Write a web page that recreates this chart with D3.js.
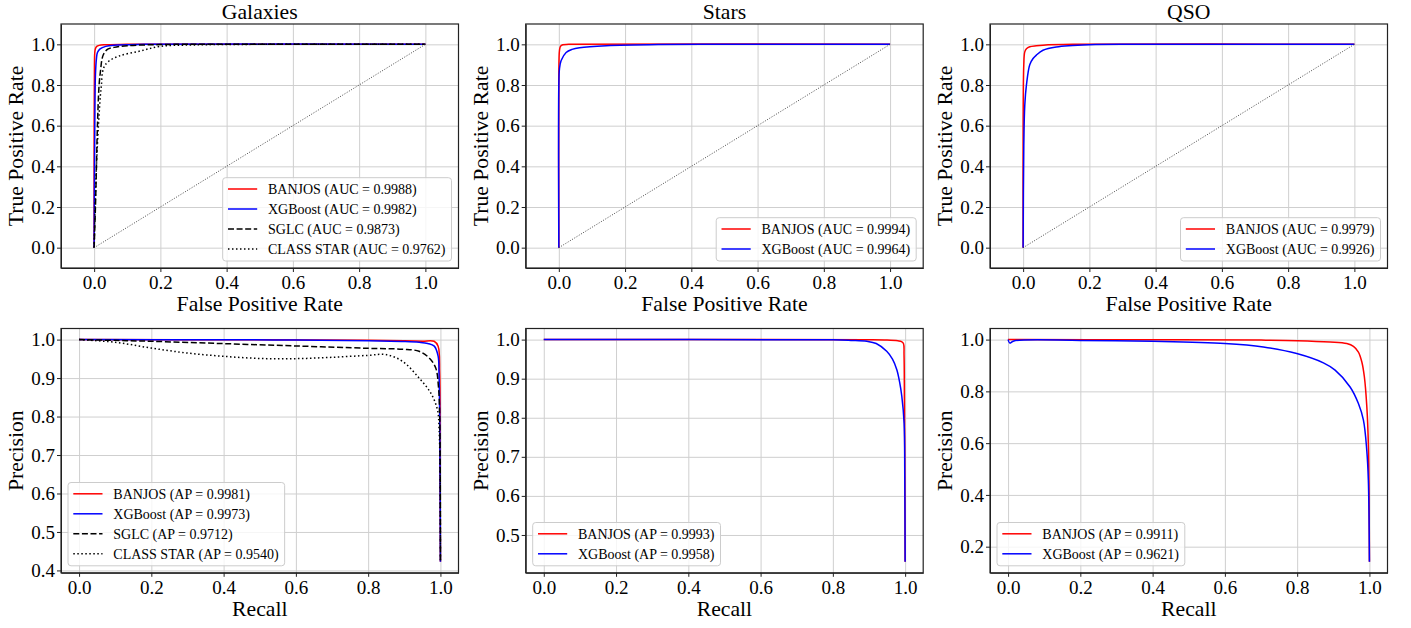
<!DOCTYPE html>
<html>
<head>
<meta charset="utf-8">
<script src="https://cdn.jsdelivr.net/npm/d3@7"></script>
<style>
    body { margin: 0; background: #fff; }
    #chart { width: 1411px; height: 628px; }
    svg, svg text { font-family: "Liberation Serif", "Times New Roman", Times, serif; fill: #000; }
    .axis path { stroke: #222; }
    .axis line { stroke: #222; }
    .axis text { font-size: 19px; }
    .grid line { stroke: #cfcfcf; stroke-width: 1; }
    .grid path { display: none; }
    .axisLabel { font-size: 21.7px; }
    .legend text { font-size: 14px; }
</style>
</head>
<body>
<div id="chart"></div>
<script>
// ---- data ----
const classNames = ["Galaxies", "Stars", "QSO"];
const rocTicks = [0.0, 0.2, 0.4, 0.6, 0.8, 1.0];
const recallTicks = [0.0, 0.2, 0.4, 0.6, 0.8, 1.0];
const precisionTicksGal = [0.4, 0.5, 0.6, 0.7, 0.8, 0.9, 1.0];
const precisionTicksStar = [0.5, 0.6, 0.7, 0.8, 0.9, 1.0];
const precisionTicksQso = [0.2, 0.4, 0.6, 0.8, 1.0];

// ROC curves: [fpr, tpr]
const rocGalBanjos = [[0,0],[0,0.5],[0.001,0.9],[0.002,0.96],[0.004,0.98],[0.008,0.99],[0.015,0.995],[0.03,0.998],[0.1,1],[1,1]];
const rocGalXgb = [[0,0],[0.002,0.6],[0.004,0.85],[0.007,0.93],[0.01,0.96],[0.018,0.978],[0.035,0.99],[0.06,0.996],[0.15,1],[1,1]];
const rocGalSglc = [[0,0],[0.004,0.2],[0.007,0.4],[0.01,0.6],[0.015,0.8],[0.02,0.88],[0.023,0.92],[0.028,0.95],[0.04,0.975],[0.06,0.985],[0.1,0.993],[0.2,0.999],[0.3,1],[1,1]];
const rocGalClassStar = [[0,0],[0.003,0.2],[0.007,0.4],[0.013,0.6],[0.019,0.75],[0.022,0.8],[0.025,0.86],[0.032,0.895],[0.045,0.918],[0.076,0.943],[0.136,0.966],[0.2,0.99],[0.3,0.997],[0.5,1],[1,1]];

const rocStarBanjos = [[0,0],[0,0.85],[0.002,0.97],[0.005,0.99],[0.012,0.998],[0.03,1],[1,1]];
const rocStarXgb = [[0,0],[0,0.8],[0.002,0.88],[0.007,0.92],[0.022,0.96],[0.04,0.975],[0.0625,0.983],[0.143,0.993],[0.3,0.999],[0.5,1],[1,1]];

const rocQsoBanjos = [[0,0],[0,0.6],[0.002,0.9],[0.005,0.963],[0.01,0.978],[0.02,0.988],[0.04,0.993],[0.06,0.996],[0.15,1],[1,1]];
const rocQsoXgb = [[0,0],[0.002,0.5],[0.005,0.7],[0.01,0.8],[0.02,0.9],[0.03,0.93],[0.04,0.947],[0.06,0.971],[0.1,0.987],[0.2,0.998],[0.35,1],[1,1]];

// PR curves: [recall, precision]
const prGalBanjos = [[0,1],[0.5,0.9995],[0.8,0.998],[0.9,0.997],[0.95,0.996],[0.9826,0.9956],[0.9936,0.9826],[0.998,0.914],[0.999,0.7],[1,0.4227]];
const prGalXgb = [[0,1],[0.4,0.9995],[0.6,0.999],[0.8,0.997],[0.9,0.995],[0.941,0.993],[0.965,0.99],[0.983,0.983],[0.9936,0.957],[0.996,0.913],[0.998,0.8],[1,0.4227]];
const prGalSglc = [[0,1],[0.1,0.998],[0.2,0.9956],[0.4,0.9896],[0.6,0.9835],[0.8,0.9774],[0.895,0.975],[0.941,0.9696],[0.969,0.952],[0.987,0.926],[0.9945,0.878],[0.998,0.8],[1,0.4227]];
const prGalClassStar = [[0,1],[0.1,0.993],[0.2,0.978],[0.3,0.965],[0.4,0.9566],[0.5,0.951],[0.6,0.9505],[0.7,0.954],[0.8,0.959],[0.849,0.961],[0.895,0.9435],[0.941,0.9],[0.9733,0.861],[0.9917,0.8177],[0.9963,0.766],[0.999,0.65],[1,0.4227]];

const prStarBanjos = [[0,1],[0.9,0.9998],[0.95,0.999],[0.98,0.997],[0.99,0.995],[0.9954,0.99],[0.997,0.96],[0.998,0.85],[0.999,0.7],[1,0.4316]];
const prStarXgb = [[0,1],[0.8,0.9995],[0.85,0.998],[0.894,0.9957],[0.92,0.99],[0.949,0.97],[0.965,0.95],[0.977,0.923],[0.985,0.89],[0.9908,0.855],[0.9972,0.786],[0.999,0.65],[1,0.4316]];

const prQsoBanjos = [[0,1],[0.4,0.9995],[0.7,0.998],[0.8,0.996],[0.8911,0.9907],[0.9374,0.9846],[0.9557,0.9742],[0.9695,0.952],[0.979,0.9136],[0.986,0.8557],[0.9928,0.74],[0.9972,0.5857],[1,0.142]];
const prQsoXgb = [[0,1],[0.0047,0.987],[0.016,0.995],[0.2,0.997],[0.4,0.9935],[0.6,0.985],[0.7064,0.9715],[0.7988,0.946],[0.8726,0.91],[0.905,0.882],[0.9465,0.817],[0.9695,0.753],[0.9834,0.689],[0.9926,0.573],[0.997,0.457],[1,0.142]];

// legend labels
const rocLabelsGal = ["BANJOS (AUC = 0.9988)", "XGBoost (AUC = 0.9982)", "SGLC (AUC = 0.9873)", "CLASS STAR (AUC = 0.9762)"];
const rocLabelsStar = ["BANJOS (AUC = 0.9994)", "XGBoost (AUC = 0.9964)"];
const rocLabelsQso = ["BANJOS (AUC = 0.9979)", "XGBoost (AUC = 0.9926)"];
const prLabelsGal = ["BANJOS (AP = 0.9981)", "XGBoost (AP = 0.9973)", "SGLC (AP = 0.9712)", "CLASS STAR (AP = 0.9540)"];
const prLabelsStar = ["BANJOS (AP = 0.9993)", "XGBoost (AP = 0.9958)"];
const prLabelsQso = ["BANJOS (AP = 0.9911)", "XGBoost (AP = 0.9621)"];

// ---- styles ----
const styles = [
    {color: "#ff0000", dash: null},
    {color: "#0000ff", dash: null},
    {color: "#000000", dash: "6,2.6"},
    {color: "#000000", dash: "1.5,2.5"}
];

const width = 1411;
const height = 628;

const svg = d3.select("#chart")
    .append("svg")
    .attr("width", width)
    .attr("height", height);

// frame positions of the 6 panels
const colLeft = [61, 525.7, 990];
const panelW = 397.5;
const topRow = {top: 24, bottom: 268};
const botRow = {top: 328.5, bottom: 572.8};

function prDomain(series) {
    // matplotlib-like 5% autoscale margin
    const lo = d3.min(series, function(s) { return d3.min(s, function(d) { return d[1]; }); });
    const hi = d3.max(series, function(s) { return d3.max(s, function(d) { return d[1]; }); });
    const pad = (hi - lo) * 0.05;
    return [lo - pad, hi + pad];
}

function drawPanel(cfg) {
    const left = cfg.left, right = cfg.left + panelW;
    const top = cfg.top, bottom = cfg.bottom;

    const xScale = d3.scaleLinear().domain(cfg.xDomain).range([left, right]);
    const yScale = d3.scaleLinear().domain(cfg.yDomain).range([bottom, top]);

    // grid
    svg.append("g")
        .attr("class", "grid")
        .attr("transform", `translate(0,${bottom})`)
        .call(d3.axisBottom(xScale).tickValues(cfg.xTicks).tickSize(-(bottom - top)).tickFormat(""));
    svg.append("g")
        .attr("class", "grid")
        .attr("transform", `translate(${left},0)`)
        .call(d3.axisLeft(yScale).tickValues(cfg.yTicks).tickSize(-(right - left)).tickFormat(""));

    const line = d3.line()
        .x(function(d) { return xScale(d[0]); })
        .y(function(d) { return yScale(d[1]); })
        .curve(d3.curveCatmullRom.alpha(0.5));

    cfg.series.forEach(function(s, i) {
        svg.append("path")
            .datum(s)
            .attr("d", line)
            .attr("fill", "none")
            .attr("stroke", styles[i].color)
            .attr("stroke-width", 1.5)
            .attr("stroke-dasharray", styles[i].dash);
    });

    // chance diagonal on ROC panels
    if (cfg.diagonal) {
        svg.append("path")
            .datum([[0, 0], [1, 1]])
            .attr("d", d3.line().x(function(d) { return xScale(d[0]); }).y(function(d) { return yScale(d[1]); }))
            .attr("fill", "none")
            .attr("stroke", "#333")
            .attr("stroke-width", 0.9)
            .attr("stroke-dasharray", "1,1.6");
    }

    // axes
    svg.append("g")
        .attr("class", "axis")
        .attr("transform", `translate(0,${bottom})`)
        .call(d3.axisBottom(xScale).tickValues(cfg.xTicks).tickFormat(d3.format(".1f")).tickSize(4).tickPadding(4).tickSizeOuter(0))
        .attr("font-family", null)
        .attr("font-size", null);
    svg.append("g")
        .attr("class", "axis")
        .attr("transform", `translate(${left},0)`)
        .call(d3.axisLeft(yScale).tickValues(cfg.yTicks).tickFormat(d3.format(".1f")).tickSize(4).tickPadding(2).tickSizeOuter(0))
        .attr("font-family", null)
        .attr("font-size", null);

    // frame
    svg.append("rect")
        .attr("x", left)
        .attr("y", top)
        .attr("width", right - left)
        .attr("height", bottom - top)
        .attr("fill", "none")
        .attr("stroke", "#222")
        .attr("stroke-width", 1.2);

    // labels
    svg.append("text")
        .attr("class", "axisLabel")
        .attr("x", (left + right) / 2)
        .attr("y", bottom + 43)
        .attr("text-anchor", "middle")
        .text(cfg.xLabel);
    svg.append("text")
        .attr("class", "axisLabel")
        .attr("transform", `translate(${left - 38},${(top + bottom) / 2}) rotate(-90)`)
        .attr("text-anchor", "middle")
        .text(cfg.yLabel);
    if (cfg.title) {
        svg.append("text")
            .attr("class", "axisLabel")
            .attr("x", (left + right) / 2)
            .attr("y", 19)
            .attr("text-anchor", "middle")
            .text(cfg.title);
    }

    // legend
    const legend = svg.append("g").attr("class", "legend");
    const box = legend.append("rect")
        .attr("rx", 3)
        .attr("fill", "#fff")
        .attr("fill-opacity", 0.8)
        .attr("stroke", "#cccccc");
    let maxLen = 0;
    cfg.labels.forEach(function(lab, i) {
        const g = legend.append("g");
        g.append("line")
            .attr("x1", 5.3).attr("x2", 34.5)
            .attr("y1", 11.3 + i * 20).attr("y2", 11.3 + i * 20)
            .attr("stroke", styles[i].color)
            .attr("stroke-width", 1.5)
            .attr("stroke-dasharray", styles[i].dash);
        const t = g.append("text")
            .attr("x", 45.3)
            .attr("y", 11.3 + i * 20)
            .attr("dy", "0.35em")
            .text(lab);
        maxLen = Math.max(maxLen, t.node().getComputedTextLength());
    });
    const bw = 45.3 + maxLen + 6;
    const bh = cfg.labels.length * 20 + 3.3;
    box.attr("width", bw).attr("height", bh);
    const lx = cfg.legendPos === "lower right" ? right - 7 - bw : left + 7;
    const ly = bottom - 7 - bh;
    legend.attr("transform", `translate(${lx},${ly})`);
}

const rocSeries = [
    [rocGalBanjos, rocGalXgb, rocGalSglc, rocGalClassStar],
    [rocStarBanjos, rocStarXgb],
    [rocQsoBanjos, rocQsoXgb]
];
const prSeries = [
    [prGalBanjos, prGalXgb, prGalSglc, prGalClassStar],
    [prStarBanjos, prStarXgb],
    [prQsoBanjos, prQsoXgb]
];
const rocLabels = [rocLabelsGal, rocLabelsStar, rocLabelsQso];
const prLabels = [prLabelsGal, prLabelsStar, prLabelsQso];
const precisionTicks = [precisionTicksGal, precisionTicksStar, precisionTicksQso];

classNames.forEach(function(name, c) {
    drawPanel({
        left: colLeft[c], top: topRow.top, bottom: topRow.bottom,
        xDomain: [-0.1, 1.1], yDomain: [-0.1, 1.1],
        xTicks: rocTicks, yTicks: rocTicks,
        series: rocSeries[c], labels: rocLabels[c],
        xLabel: "False Positive Rate", yLabel: "True Positive Rate",
        title: name, diagonal: true, legendPos: "lower right"
    });
    drawPanel({
        left: colLeft[c], top: botRow.top, bottom: botRow.bottom,
        xDomain: [-0.05, 1.05], yDomain: prDomain(prSeries[c]),
        xTicks: recallTicks, yTicks: precisionTicks[c],
        series: prSeries[c], labels: prLabels[c],
        xLabel: "Recall", yLabel: "Precision",
        title: null, diagonal: false, legendPos: "lower left"
    });
});
</script>
</body>
</html>
